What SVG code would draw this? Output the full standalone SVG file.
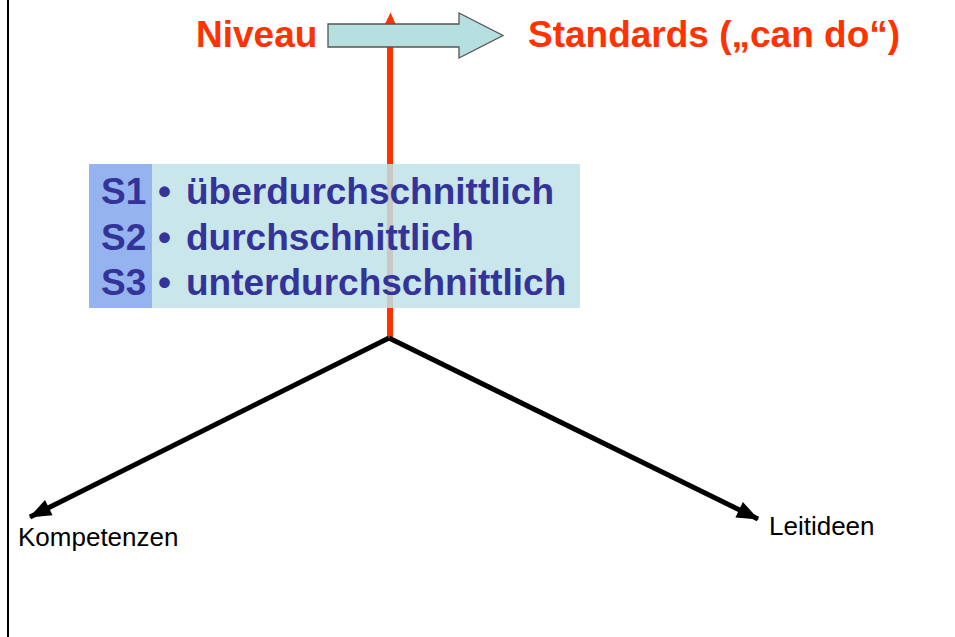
<svg xmlns="http://www.w3.org/2000/svg" width="955" height="637" viewBox="0 0 955 637">
<style>
.title{font-family:"Liberation Sans",Arial,sans-serif;font-weight:bold;font-size:37px;fill:#ff3300}
.lvl{font-family:"Liberation Sans",Arial,sans-serif;font-weight:bold;font-size:37px;fill:#333399}
.lbl{font-family:"Liberation Sans",Arial,sans-serif;font-size:26px;fill:#000}
</style>
<defs>
<marker id="ah" markerWidth="4.4" markerHeight="3.4" refX="4.2" refY="1.7" orient="auto" markerUnits="strokeWidth" overflow="visible">
<path d="M0,0 L4.4,1.7 L0,3.4 Z" fill="#000"/>
</marker>
</defs>
<rect width="955" height="637" fill="#fff"/>
<line x1="8" y1="0" x2="8" y2="637" stroke="#000" stroke-width="2"/>
<g id="connectors">
<line x1="390" y1="337" x2="390" y2="24" stroke="#ff3300" stroke-width="6"/>
<path d="M384.5,25 L390.5,12.5 L396,25 Z" fill="#ff3300"/>
<line x1="389" y1="338" x2="30" y2="517" stroke="#000" stroke-width="5" marker-end="url(#ah)"/>
<line x1="389" y1="338" x2="758" y2="519" stroke="#000" stroke-width="5" marker-end="url(#ah)"/>
</g>
<g id="niveau-arrow">
<path d="M328,24 H459 V13 L503,35.5 L459,58 V47 H328 Z" fill="#b6dfe0" stroke="#555" stroke-width="1.3"/>
</g>
<g id="niveau"><text class="title" x="196" y="47">Niveau</text></g>
<g id="standards"><text class="title" x="528" y="47">Standards („can do“)</text></g>
<g id="levels">
<rect x="89" y="164" width="491" height="144" fill="#c0e3e7" opacity="0.85"/>
<rect x="89" y="164" width="63" height="144" fill="#8ca9f0" opacity="0.85"/>
<text class="lvl" x="101" y="204">S1</text>
<text class="lvl" x="158" y="204">•</text>
<text class="lvl" x="186" y="204">überdurchschnittlich</text>
<text class="lvl" x="101" y="250">S2</text>
<text class="lvl" x="158" y="250">•</text>
<text class="lvl" x="186" y="250">durchschnittlich</text>
<text class="lvl" x="101" y="295">S3</text>
<text class="lvl" x="158" y="295">•</text>
<text class="lvl" x="186" y="295">unterdurchschnittlich</text>
</g>
<g id="kompetenzen"><text class="lbl" x="18" y="546">Kompetenzen</text></g>
<g id="leitideen"><text class="lbl" x="769" y="535">Leitideen</text></g>
</svg>
